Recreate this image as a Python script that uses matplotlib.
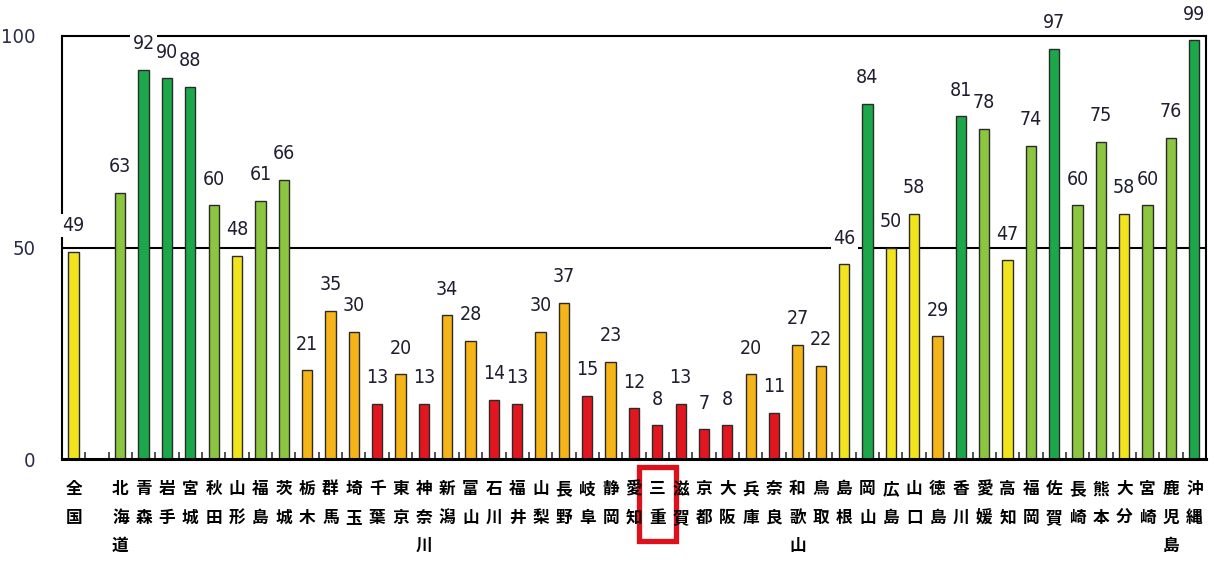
"""
Prefecture bar chart (0-100 scale) with colour-coded ranks and the
Mie label boxed in red.
"""
import numpy as np
import matplotlib
matplotlib.use("Agg")
import matplotlib.pyplot as plt  # noqa: E402
from matplotlib import font_manager  # noqa: E402
from matplotlib.patches import Rectangle  # noqa: E402
from matplotlib.transforms import blended_transform_factory  # noqa: E402

labels = ["全国", "北海道", "青森", "岩手", "宮城", "秋田", "山形", "福島", "茨城",
          "栃木", "群馬", "埼玉", "千葉", "東京", "神奈川", "新潟", "富山", "石川",
          "福井", "山梨", "長野", "岐阜", "静岡", "愛知", "三重", "滋賀", "京都",
          "大阪", "兵庫", "奈良", "和歌山", "鳥取", "島根", "岡山", "広島", "山口",
          "徳島", "香川", "愛媛", "高知", "福岡", "佐賀", "長崎", "熊本", "大分",
          "宮崎", "鹿児島", "沖縄"]
values = [49, 63, 92, 90, 88, 60, 48, 61, 66,
          21, 35, 30, 13, 20, 13, 34, 28, 14,
          13, 30, 37, 15, 23, 12, 8, 13, 7,
          8, 20, 11, 27, 22, 46, 84, 50, 58,
          29, 81, 78, 47, 74, 97, 60, 75, 58,
          60, 76, 99]
ranks = ["Y", "LG", "G", "G", "G", "LG", "Y", "LG", "LG",
         "O", "O", "O", "R", "O", "R", "O", "O", "R",
         "R", "O", "O", "R", "O", "R", "R", "R", "R",
         "R", "O", "R", "O", "O", "Y", "G", "Y", "Y",
         "O", "G", "LG", "Y", "LG", "G", "LG", "LG", "Y",
         "LG", "LG", "G"]
highlight = "三重"

RANK_COLORS = {"Y": "#f2e41c", "LG": "#8cc540", "G": "#1ca84a",
               "O": "#f5b417", "R": "#e3161f"}

# narrow digits if a condensed face is around, otherwise plain Liberation Sans
NUM_FONT = dict(family="Liberation Sans")
for f in font_manager.fontManager.ttflist:
    if f.stretch in ("condensed", "semi-condensed") and f.style == "normal" \
            and f.weight in (400, "normal") \
            and f.name in ("DejaVu Sans", "Roboto", "Open Sans", "Noto Sans",
                           "Liberation Sans Narrow", "Roboto Condensed"):
        NUM_FONT = dict(fname=f.fname)
        break
NUM_PROPS = font_manager.FontProperties(**NUM_FONT)
JP_FONT = ["Noto Sans CJK JP", "DejaVu Sans"]

# gap slot after the national average
pos = np.array([0] + list(range(2, len(labels) + 1)))

fig = plt.figure(figsize=(12.14, 5.71), dpi=100)
ax = fig.add_axes([0.051, 0.196, 0.9424, 0.741])

ax.bar(pos, values, width=0.44, color=[RANK_COLORS[r] for r in ranks],
       edgecolor="#2a2a2a", linewidth=1.0, zorder=2)
ax.axhline(50, color="black", lw=1.5, zorder=1)

num_props = NUM_PROPS.copy()
num_props.set_size(14)
for x, v in zip(pos, values):
    ax.annotate(str(v), (x, v), xytext=(0, 12), textcoords="offset points",
                ha="center", va="bottom", fontproperties=num_props,
                color="#1e1e30", zorder=6, annotation_clip=False,
                bbox=dict(boxstyle="square,pad=0.12", fc="white", ec="none"))

ax.set_xlim(-0.5, 48.5)
ax.set_ylim(0, 100)
ax.set_yticks([0, 50, 100])
tick_props = NUM_PROPS.copy()
tick_props.set_size(14.5)
ax.set_yticklabels(["0", "50", "100"], fontproperties=tick_props,
                   color="#2a2a48")
ax.tick_params(axis="y", length=0, pad=19)
ax.set_xticks([])
ax.set_xticks(np.arange(0.5, 48, 1), minor=True)
ax.tick_params(axis="x", which="minor", direction="in", length=5,
               width=1.2, color="#333333")
for side in ["left", "top", "right"]:
    ax.spines[side].set_linewidth(1.5)
ax.spines["bottom"].set_linewidth(2.2)

trans = blended_transform_factory(ax.transData, ax.transAxes)
for x, name in zip(pos, labels):
    ax.text(x, -0.05, "\n".join(name), transform=trans, ha="center", va="top",
            fontsize=12, fontweight="bold", family=JP_FONT, linespacing=1.75,
            zorder=6, clip_on=False)
    if name == highlight:
        ax.add_patch(Rectangle((x - 0.78, -0.194), 1.56, 0.175, transform=trans,
                               fc="white", ec="#e0101a", lw=3.8,
                               clip_on=False, zorder=5))

fig.savefig("out.png", dpi=100)
print("saved out.png")
